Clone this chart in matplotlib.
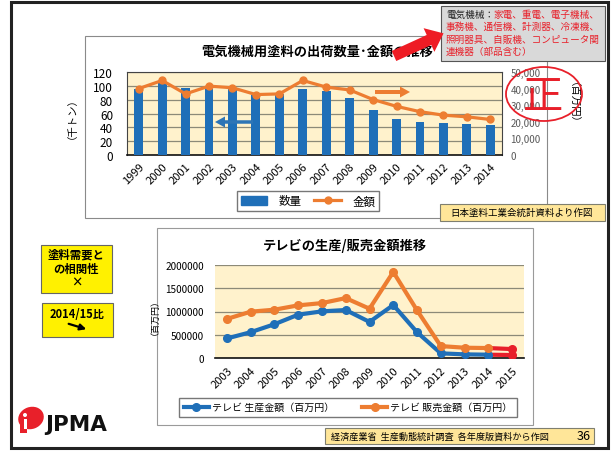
import matplotlib.pyplot as plt
from matplotlib.patches import Rectangle, Ellipse, FancyArrow, Patch
from matplotlib.lines import Line2D
from matplotlib.ticker import FuncFormatter

plt.rcParams['font.family'] = ['Noto Sans CJK JP', 'DejaVu Sans']

# top chart data: paint for electrical machinery
years_top = ['1999', '2000', '2001', '2002', '2003', '2004', '2005', '2006',
             '2007', '2008', '2009', '2010', '2011', '2012', '2013', '2014']
volume_kt = [96, 106, 97, 97, 96, 87, 88, 96, 92, 83, 65, 52, 48, 46, 45, 43]
amount_myen = [40000, 44900, 36800, 41500, 40500, 36400, 36800, 44900,
               40900, 39200, 33400, 29300, 26100, 24000, 23000, 21400]

# bottom chart data: TV production / sales
years_tv = ['2003', '2004', '2005', '2006', '2007', '2008', '2009',
            '2010', '2011', '2012', '2013', '2014', '2015']
tv_production = [420000, 555000, 726000, 932000, 1003000, 1032000, 776000,
                 1139000, 555000, 100000, 78000, 71000, 64000]
tv_sales = [840000, 996000, 1039000, 1132000, 1181000, 1288000, 1060000,
            1850000, 1025000, 256000, 221000, 214000, 192000]

W, H = 613, 452
BLUE = '#1f6fb8'
ORANGE = '#ed7d31'
RED = '#e8202a'
PLOTBG = '#fff2cc'


def rect(x0, y0, x1, y1):
    return [x0 / W, 1 - y1 / H, (x1 - x0) / W, (y1 - y0) / H]


fig = plt.figure(figsize=(W / 100, H / 100), dpi=100)

# background layer in pixel coordinates
bg = fig.add_axes([0, 0, 1, 1], zorder=0)
bg.set_xlim(0, W)
bg.set_ylim(H, 0)
bg.axis('off')

bg.add_patch(Rectangle((11, 3), 597, 446, fill=False, ec='#222222', lw=2.2))
bg.add_patch(Rectangle((85, 37), 462, 182, fill=False, ec='#8a8a8a', lw=0.8))
bg.add_patch(Rectangle((157, 229), 376, 197, fill=False, ec='#9a9a9a', lw=0.8))

bg.text(317, 52, '電気機械用塗料の出荷数量･金額の推移', ha='center', va='center',
        fontsize=9.5, fontweight='bold')
bg.text(67, 113, '（千トン）', ha='center', va='center', rotation=90, fontsize=7.5)
bg.text(567, 108, '（百万円）', ha='center', va='center', rotation=270, fontsize=7.5)
bg.text(345, 246, 'テレビの生産/販売金額推移', ha='center', va='center',
        fontsize=9.5, fontweight='bold')
bg.text(150, 313, '（百万円）', ha='center', va='center', rotation=90, fontsize=6.5)

# ---- top chart ----
ax = fig.add_axes(rect(127, 73, 502, 156), zorder=2)
x_top = range(len(years_top))
ax.bar(x_top, volume_kt, width=0.38, color=BLUE, zorder=3)
ax.set_facecolor(PLOTBG)
ax.set_xlim(-0.5, len(years_top) - 0.5)
ax.set_ylim(0, 120)
ax.set_yticks(range(0, 121, 20))
ax.grid(axis='y', color='#8c8a78', lw=0.9, zorder=1)
ax.set_xticks(list(x_top))
ax.set_xticklabels(years_top, rotation=45, ha='right', rotation_mode='anchor')
ax.tick_params(axis='y', length=0, labelsize=8.5, pad=10)
ax.tick_params(axis='x', length=0, labelsize=8, pad=4)
for s in ax.spines.values():
    s.set_color('#444444')
    s.set_linewidth(0.8)
ax.spines['bottom'].set_color('#111111')
ax.spines['bottom'].set_linewidth(1.2)

ax2 = ax.twinx()
ax2.plot(list(x_top), amount_myen, color=ORANGE, lw=2.3, marker='o', ms=5,
         zorder=4)
ax2.set_ylim(0, 50000)
ax2.set_yticks(range(0, 50001, 10000))
ax2.yaxis.set_major_formatter(FuncFormatter(lambda v, p: f'{int(v):,}'))
ax2.tick_params(axis='y', length=0, labelsize=7, labelcolor='#595959', pad=6)
for s in ax2.spines.values():
    s.set_visible(False)

fig.legend([Patch(color=BLUE), Line2D([], [], color=ORANGE, lw=2.3, marker='o', ms=5)],
           ['数量', '金額'], loc='center', bbox_to_anchor=(308 / W, 1 - 202 / H),
           ncol=2, fancybox=False, edgecolor='#777777', fontsize=8.3,
           handlelength=2.3, handleheight=0.8, handletextpad=1.0,
           columnspacing=1.1, borderpad=0.3, framealpha=1)

# ---- bottom chart ----
bx = fig.add_axes(rect(215, 266, 524, 359), zorder=2)
x_tv = list(range(len(years_tv)))
bx.set_facecolor(PLOTBG)
bx.plot(x_tv[:-1], tv_production[:-1], color=BLUE, lw=3, marker='o', ms=5.5,
        zorder=4, label='テレビ 生産金額（百万円）')
bx.plot(x_tv[:-1], tv_sales[:-1], color=ORANGE, lw=3, marker='o', ms=5.5,
        zorder=4, label='テレビ 販売金額（百万円）')
bx.plot(x_tv[-2:], tv_production[-2:], color=RED, lw=3, zorder=3)
bx.plot(x_tv[-2:], tv_sales[-2:], color=RED, lw=3, zorder=3)
bx.plot(x_tv[-1:], tv_production[-1:], color=RED, marker='o', ms=5.5, zorder=4)
bx.plot(x_tv[-1:], tv_sales[-1:], color=RED, marker='o', ms=5.5, zorder=4)
bx.set_xlim(-0.5, len(years_tv) - 0.5)
bx.set_ylim(0, 2000000)
bx.set_yticks(range(0, 2000001, 500000))
bx.yaxis.set_major_formatter(FuncFormatter(lambda v, p: f'{int(v)}'))
bx.grid(axis='y', color='#8c8a78', lw=0.9, zorder=1)
bx.set_xticks(x_tv)
bx.set_xticklabels(years_tv, rotation=45, ha='right', rotation_mode='anchor')
bx.tick_params(axis='y', length=0, labelsize=7.2, pad=8)
bx.tick_params(axis='x', length=0, labelsize=8, pad=5)
for side in ['left', 'right', 'top']:
    bx.spines[side].set_visible(False)
bx.spines['bottom'].set_color('#111111')
bx.spines['bottom'].set_linewidth(1.2)

fig.legend(*bx.get_legend_handles_labels(), loc='center',
           bbox_to_anchor=(348 / W, 1 - 408 / H), ncol=2, fancybox=False,
           edgecolor='#777777', fontsize=7.2, handlelength=2.5,
           handletextpad=0.3, columnspacing=2.8, borderpad=0.45,
           framealpha=1)

# ---- foreground layer ----
fg = fig.add_axes([0, 0, 1, 1], zorder=10)
fg.set_xlim(0, W)
fg.set_ylim(H, 0)
fg.axis('off')
fg.patch.set_alpha(0)

# note box
fg.add_patch(Rectangle((441, 7), 164, 55, fc='#d9d9d9', ec='#555555', lw=0.8))
fg.text(446, 15, '電気機械：', ha='left', va='center', fontsize=6.9, color='#222222')
note_lines = ['家電、重電、電子機械、', '事務機、通信機、計測器、冷凍機、',
              '照明器具、自販機、コンピュータ関', '連機器（部品含む）']
fg.text(494, 15, note_lines[0], ha='left', va='center', fontsize=6.9, color=RED)
for i, line in enumerate(note_lines[1:]):
    fg.text(446, 27.5 + i * 12.3, line, ha='left', va='center', fontsize=6.9,
            color=RED)

fg.add_patch(FancyArrow(394, 57, 35, -16, width=11, head_width=26,
                        head_length=16, length_includes_head=False,
                        color='#ee1c24', lw=0))

# 正 stamp
fg.add_patch(Ellipse((544, 95), 76, 54, fill=False, ec=RED, lw=1.3))
fg.text(543, 98, '正', ha='center', va='center', fontsize=29, color=RED)

# direction arrows in the top chart
fg.add_patch(FancyArrow(253, 123, -28, 0, width=3.5, head_width=11,
                        head_length=10, color='#2e75b6', lw=0))
fg.add_patch(FancyArrow(375, 93, 25, 0, width=4, head_width=11,
                        head_length=10, color=ORANGE, lw=0))

# source boxes
fg.add_patch(Rectangle((440, 205), 165, 17, fc='#ffe699', ec='#7f7f6f', lw=0.8))
fg.text(522, 213.5, '日本塗料工業会統計資料より作図', ha='center', va='center',
        fontsize=6.8)
fg.add_patch(Rectangle((325, 429), 269, 16, fc='#ffe699', ec='#7f7f6f', lw=0.8))
fg.text(331, 437, '経済産業省  生産動態統計調査  各年度版資料から作図', ha='left',
        va='center', fontsize=6.6)
fg.text(591, 437, '36', ha='right', va='center', fontsize=9)

# yellow side boxes
fg.add_patch(Rectangle((41, 246), 71, 48, fc='#fff100', ec='#666666', lw=0.8))
fg.text(76.5, 255, '塗料需要と', ha='center', va='center', fontsize=8.2,
        fontweight='bold')
fg.text(76.5, 269, 'の相関性', ha='center', va='center', fontsize=8.2,
        fontweight='bold')
fg.text(76.5, 283, '×', ha='center', va='center', fontsize=8.2, fontweight='bold')
fg.add_patch(Rectangle((42, 304), 71, 34, fc='#fff100', ec='#666666', lw=0.8))
fg.text(77, 315, '2014/15比', ha='center', va='center', fontsize=8,
        fontweight='bold')
fg.annotate('', xy=(89, 331), xytext=(66, 324),
            arrowprops=dict(arrowstyle='-|>', color='black', lw=1.6,
                            mutation_scale=9))

# JPMA logo
fg.add_patch(Ellipse((31, 419), 26, 22, angle=-20, fc=RED, ec='none'))
fg.add_patch(Rectangle((20, 422), 7, 12, fc=RED, ec='none'))
fg.add_patch(Ellipse((25, 416), 4, 4, fc='white', ec='none'))
fg.add_patch(Rectangle((23.5, 420), 3, 10, fc='white', ec='none'))
fg.text(45, 425, 'JPMA', ha='left', va='center', fontsize=15.5,
        fontweight='bold', family='DejaVu Sans', color='#111111')

fig.savefig('out.png', dpi=100)
